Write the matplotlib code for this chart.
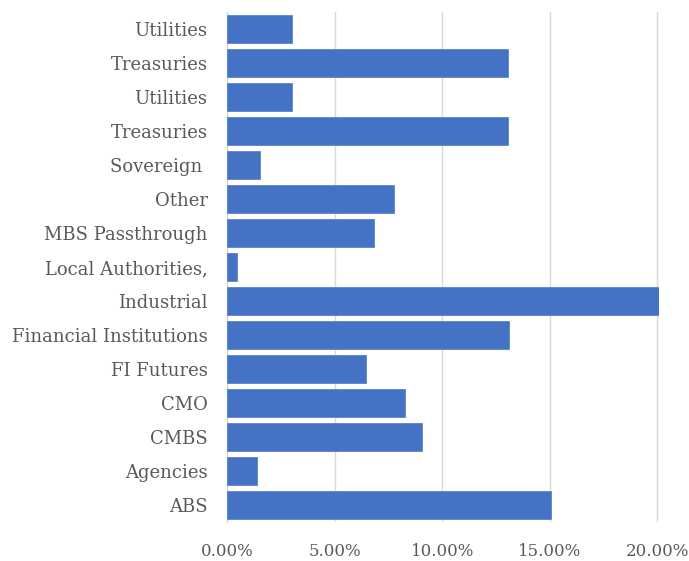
import matplotlib
matplotlib.use("Agg")
import matplotlib.pyplot as plt
from matplotlib.ticker import FuncFormatter

categories = ["ABS", "Agencies", "CMBS", "CMO", "FI Futures", "Financial Institutions",
              "Industrial", "Local Authorities,", "MBS Passthrough", "Other", "Sovereign ",
              "Treasuries", "Utilities", "Treasuries", "Utilities"]
values = [15.05, 1.40, 9.07, 8.28, 6.47, 13.12, 20.07, 0.47, 6.84, 7.77, 1.53,
          13.07, 3.02, 13.07, 3.02]
tick_values = [0, 5, 10, 15, 20]

fig = plt.figure(figsize=(6.89, 5.61), dpi=100)
ax = fig.add_axes([227/689, 1-522/561, (659-227)/689, (522-12)/561])

pos = list(range(len(categories)))
ax.barh(pos, values, height=0.81, color="#4472C4", edgecolor="#5b84cc", linewidth=0.6, zorder=3)
ax.set_ylim(-0.5, len(categories)-0.5)
ax.set_xlim(0, 20.08)
ax.set_yticks(pos)
ax.set_yticklabels(categories)
ax.set_xticks(tick_values)
ax.xaxis.set_major_formatter(FuncFormatter(lambda v, p: f"{v:.2f}%"))

for s in ["top", "right", "bottom"]:
    ax.spines[s].set_visible(False)
ax.spines["left"].set_color("#d9d9d9")
ax.spines["left"].set_linewidth(1.0)
ax.grid(axis="x", color="#d9d9d9", linewidth=1.0, zorder=0)
ax.tick_params(axis="both", length=0, labelcolor="#595959")
ax.tick_params(axis="y", pad=14, labelsize=13)
ax.tick_params(axis="x", pad=15, labelsize=12)
for lab in ax.get_xticklabels() + ax.get_yticklabels():
    lab.set_fontfamily("DejaVu Serif")

fig.savefig("out.png", dpi=100)
